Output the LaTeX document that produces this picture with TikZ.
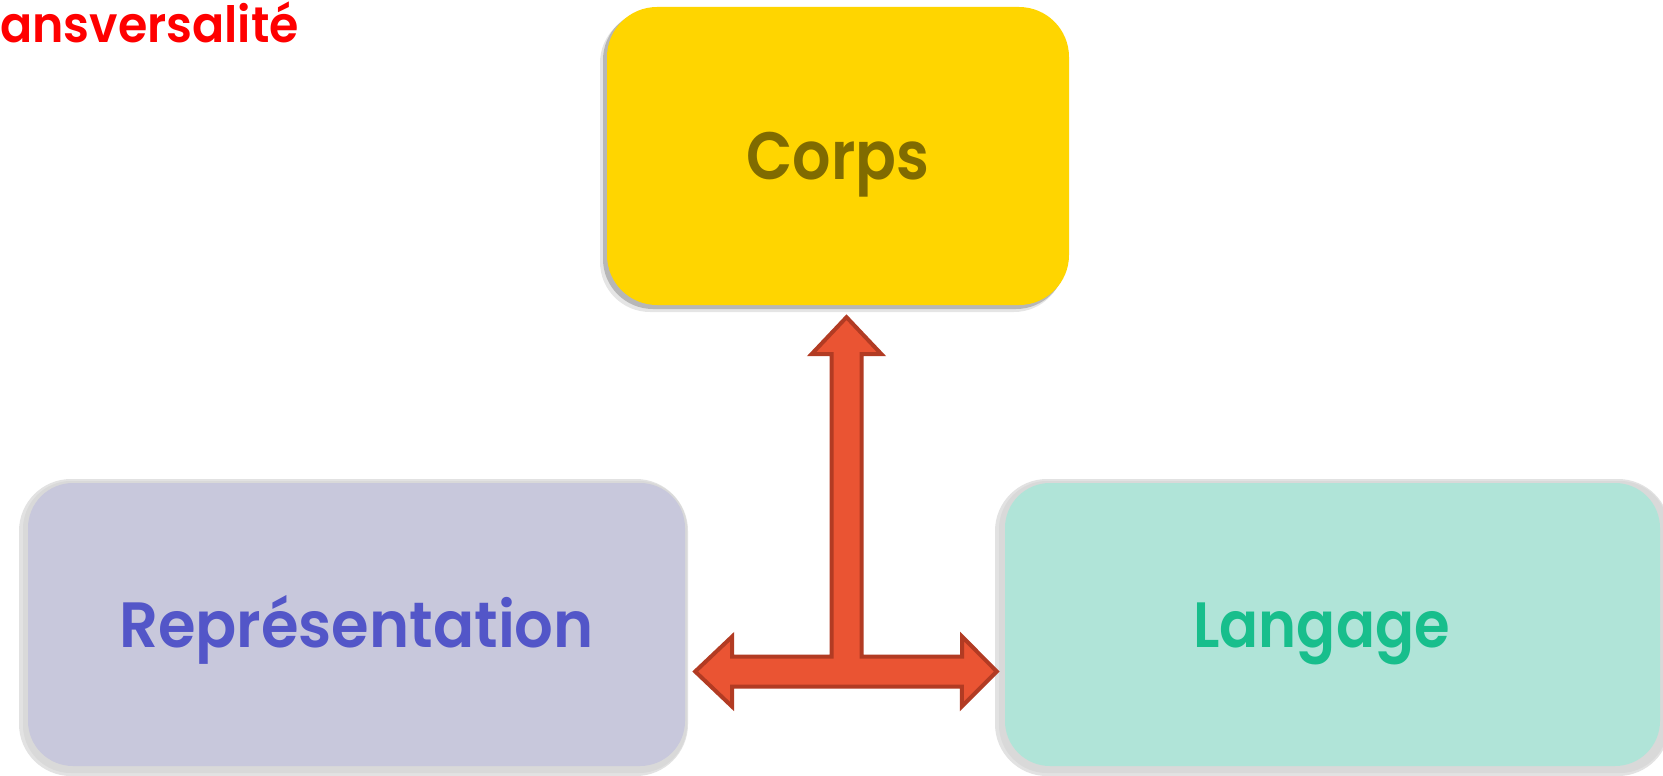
\documentclass[tikz,border=0pt]{standalone}
\usepackage{fontspec}
\usepackage{graphicx}
\setmainfont{Poppins}[BoldFont={Poppins SemiBold}]
\usetikzlibrary{calc}
\definecolor{corpsfill}{RGB}{255,213,0}
\definecolor{corpstext}{RGB}{128,107,0}
\definecolor{repfill}{RGB}{200,200,220}
\definecolor{reptext}{RGB}{83,86,200}
\definecolor{langfill}{RGB}{176,228,216}
\definecolor{langtext}{RGB}{24,190,140}
\definecolor{rimgray}{RGB}{226,226,226}
\definecolor{arrowfill}{RGB}{234,84,51}
\definecolor{arrowline}{RGB}{178,59,35}
\definecolor{titlered}{RGB}{255,0,0}
\tikzset{
  boxstyle/.style={rectangle, inner sep=0pt, font=\bfseries\fontsize{64}{64}\selectfont, text height=45pt, text depth=0pt},
  arrowshape/.style={fill=arrowfill, draw=arrowline, line width=4pt, line join=miter}
}
\begin{document}
\begin{tikzpicture}[x=1pt,y=-1pt]
\useasboundingbox (0,0) rectangle (1663,776);
\fill[white] (0,0) rectangle (1663,776);
% title
\node[anchor=base west, inner sep=0pt, text=titlered, font=\bfseries\fontsize{50}{50}\selectfont] (title) at (0,43) {\scalebox{0.95}[1]{ansversalité}};
% Corps shadow
\fill[black, opacity=0.10, rounded corners=50pt] (600,13) rectangle (1064,312);
\fill[black, opacity=0.20, rounded corners=50pt] (603,10) rectangle (1066,309);
\node[boxstyle, fill=corpsfill, rounded corners=50pt, minimum width=462pt, minimum height=298pt, text=corpstext, font=\bfseries\fontsize{67}{67}\selectfont, text height=47pt] (corps) at (838,156) {\scalebox{0.9}[1]{Corps}};
% Représentation rim
\fill[rimgray, rounded corners=52pt] (19,479) rectangle (688,776);
\fill[black, opacity=0.04, rounded corners=48pt] (23,481) rectangle (687,773);
\node[boxstyle, fill=repfill, rounded corners=45pt, minimum width=657pt, minimum height=283pt, text=reptext] (rep) at (356.5,624.5) {\scalebox{0.95}[1]{Représentation}};
% Langage rim
\fill[rimgray, rounded corners=52pt] (995,479) rectangle (1670,776);
\fill[black, opacity=0.04, rounded corners=48pt] (999,481) rectangle (1668,773);
\node[boxstyle, fill=langfill, rounded corners=45pt, minimum width=655pt, minimum height=283pt, text=langtext] (lang) at (1332.5,624.5) {\scalebox{0.9}[1]{Langage}\hspace*{22pt}};
% T arrow
\coordinate (J) at (846.5,671.5);
\coordinate (topTip) at ($(corps.south)+(8.5,12)$);
\coordinate (leftTip) at ($(rep.east)+(10,47)$);
\coordinate (rightTip) at ($(lang.west)+(-8,47)$);
\draw[arrowshape]
  (topTip) -- ++(35,37) -- ++(-20,0) |- ($(J)+(115.5,-15)$) -- ++(0,-20)
  -- (rightTip) -- ($(rightTip)+(-35,35)$) -- ++(0,-20)
  -- ($(J)+(-114.5,15)$) -- ++(0,20) -- (leftTip) -- ($(leftTip)+(37,-35)$) -- ++(0,20)
  -| ($(topTip)+(-15,37)$) -- ++(-20,0) -- cycle;
\end{tikzpicture}
\end{document}
